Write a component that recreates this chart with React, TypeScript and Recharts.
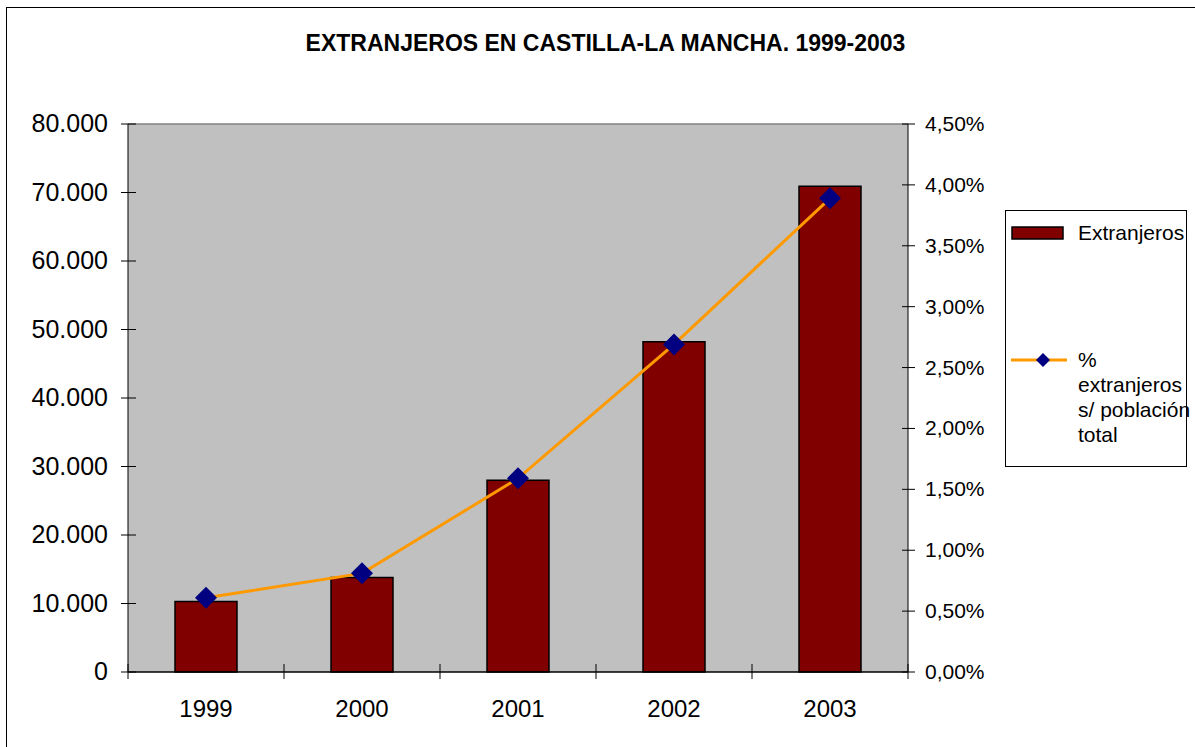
import React from "react";
import {
  ComposedChart, Bar, Line, XAxis, YAxis, CartesianGrid, Legend, ReferenceLine,
} from "recharts";

const years = ["1999", "2000", "2001", "2002", "2003"];
const extranjeros = [10300, 13800, 28000, 48200, 70900];
const porcentaje = [0.61, 0.81, 1.59, 2.69, 3.89];
const leftTicks = [0, 10000, 20000, 30000, 40000, 50000, 60000, 70000, 80000];
const rightTicks = [0, 0.5, 1, 1.5, 2, 2.5, 3, 3.5, 4, 4.5];

const data = years.map((year, i) => ({
  year,
  extranjeros: extranjeros[i],
  porcentaje: porcentaje[i],
}));

const W = 1195;
const H = 747;
const PLOT = { left: 128, right: 908, top: 124, bottom: 672 };
const FONT = "'Liberation Sans', Arial, Helvetica, sans-serif";
const BAND = (PLOT.right - PLOT.left) / years.length;

const fmtMiles = (v: number) => v.toLocaleString("de-DE");
const fmtPct = (v: number) => v.toFixed(2).replace(".", ",") + "%";

const LeftTick = ({ x, y, payload }: any) => (
  <g>
    <line x1={x - 7} x2={x + 8} y1={y} y2={y} stroke="#000" strokeWidth={1} />
    <text x={x - 20} y={y} dy={8} textAnchor="end" fontSize={25} fontFamily={FONT} fill="#000">
      {fmtMiles(payload.value)}
    </text>
  </g>
);

const RightTick = ({ x, y, payload }: any) => (
  <g>
    <line x1={x - 6} x2={x + 7} y1={y} y2={y} stroke="#000" strokeWidth={1} />
    <text x={x + 17} y={y} dy={7} textAnchor="start" fontSize={21} fontFamily={FONT} fill="#000">
      {fmtPct(payload.value)}
    </text>
  </g>
);

const BottomTick = ({ x, y, payload, index }: any) => (
  <g>
    <line x1={x - BAND / 2} x2={x - BAND / 2} y1={y - 8} y2={y + 7} stroke="#000" strokeWidth={1} />
    {index === years.length - 1 && (
      <line x1={x + BAND / 2} x2={x + BAND / 2} y1={y - 8} y2={y + 7} stroke="#000" strokeWidth={1} />
    )}
    <text x={x} y={y} dy={45} textAnchor="middle" fontSize={24} fontFamily={FONT} fill="#000">
      {payload.value}
    </text>
  </g>
);

const Diamond = ({ cx, cy }: any) => {
  if (cx == null || cy == null) return null;
  const r = 11;
  return (
    <polygon
      points={`${cx},${cy - r} ${cx + r},${cy} ${cx},${cy + r} ${cx - r},${cy}`}
      fill="#000080"
    />
  );
};

const LegendBox = ({ payload }: any) => {
  const items = payload || [];
  return (
    <div
      style={{
        width: 182, height: 257, border: "1px solid #000", boxSizing: "border-box",
        background: "#fff", fontFamily: FONT, fontSize: 21, position: "relative", color: "#000",
      }}
    >
      {items.map((p: any) => {
        const isBar = p.type === "rect";
        return (
          <div
            key={p.value}
            style={{ position: "absolute", left: 5, top: isBar ? 9 : 136, display: "flex", alignItems: "flex-start" }}
          >
            <svg width={58} height={26} style={{ flexShrink: 0 }}>
              {isBar ? (
                <rect x={1} y={7} width={51} height={12} fill="#800000" stroke="#000" strokeWidth={1.5} />
              ) : (
                <g>
                  <line x1={0} x2={56} y1={13} y2={13} stroke="#FF9900" strokeWidth={3} />
                  <polygon points="32,6 39,13 32,20 25,13" fill="#000080" />
                </g>
              )}
            </svg>
            <span style={{ marginLeft: 9, width: 116, lineHeight: "25px", display: "block" }}>{p.value}</span>
          </div>
        );
      })}
    </div>
  );
};

export default function App() {
  return (
    <div style={{ position: "absolute", left: 0, top: 0, width: W, height: H, overflow: "hidden", background: "#fff" }}>
      <div
        style={{
          position: "absolute", left: 6, top: 7, width: W + 20, height: H + 20,
          border: "1px solid #000", boxSizing: "border-box",
        }}
      />
      <div
        style={{
          position: "absolute", left: 8, top: 30, width: W, textAlign: "center",
          fontFamily: FONT, fontWeight: "bold", fontSize: 23, color: "#000",
        }}
      >
        EXTRANJEROS EN CASTILLA-LA MANCHA. 1999-2003
      </div>
      <div style={{ position: "absolute", left: 0, top: 0 }}>
        <ComposedChart
          width={W}
          height={H}
          data={data}
          margin={{ top: PLOT.top, left: 0, right: W - PLOT.right - 80, bottom: H - PLOT.bottom - 60 }}
        >
          <CartesianGrid fill="#C0C0C0" horizontal={false} vertical={false} />
          <XAxis
            dataKey="year"
            height={60}
            tickSize={0}
            tickMargin={0}
            tickLine={false}
            axisLine={{ stroke: "#000", strokeWidth: 1.5 }}
            tick={<BottomTick />}
            interval={0}
          />
          <YAxis
            yAxisId="left"
            width={PLOT.left}
            domain={[0, 80000]}
            ticks={leftTicks}
            tickSize={0}
            tickMargin={0}
            tickLine={false}
            axisLine={{ stroke: "#000", strokeWidth: 1 }}
            tick={<LeftTick />}
            interval={0}
          />
          <YAxis
            yAxisId="right"
            orientation="right"
            width={80}
            domain={[0, 4.5]}
            ticks={rightTicks}
            tickSize={0}
            tickMargin={0}
            tickLine={false}
            axisLine={{ stroke: "#000", strokeWidth: 1 }}
            tick={<RightTick />}
            interval={0}
          />
          <ReferenceLine yAxisId="left" y={80000} stroke="#808080" strokeWidth={1.5} />
          <Bar
            yAxisId="left"
            dataKey="extranjeros"
            name="Extranjeros"
            fill="#800000"
            stroke="#000"
            strokeWidth={1.5}
            barSize={62}
            legendType="rect"
            isAnimationActive={false}
          />
          <Line
            yAxisId="right"
            dataKey="porcentaje"
            name="% extranjeros s/ población total"
            type="linear"
            stroke="#FF9900"
            strokeWidth={3}
            dot={<Diamond />}
            activeDot={false}
            legendType="line"
            isAnimationActive={false}
          />
          <Legend
            layout="vertical"
            align="center"
            verticalAlign="middle"
            wrapperStyle={{ left: 1005, top: 210, width: 182 }}
            content={<LegendBox />}
          />
        </ComposedChart>
      </div>
    </div>
  );
}
